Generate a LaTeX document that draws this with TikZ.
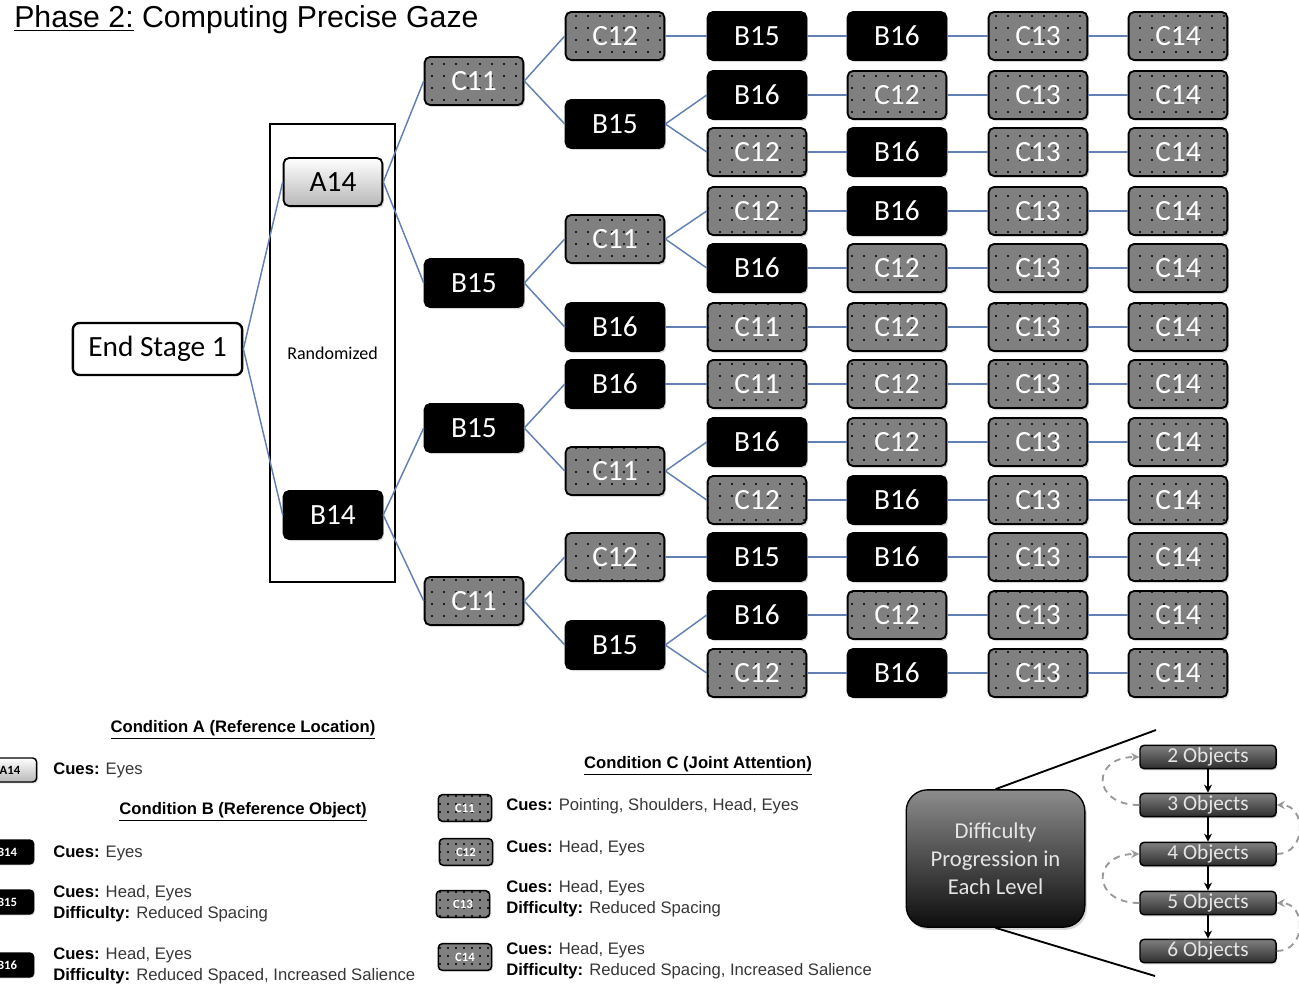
\documentclass[tikz,border=0pt]{standalone}
\usepackage{fontspec}
\setmainfont{Liberation Sans}
\newfontfamily\carl{Carlito}
\usetikzlibrary{patterns.meta,shadows,arrows.meta}
\definecolor{cgray}{RGB}{128,128,128}
\definecolor{linkblue}{RGB}{98,128,180}
\definecolor{legtext}{RGB}{55,55,55}
\newcommand\leglab[1]{\textcolor{black}{\textbf{#1}}}
\tikzset{
 treebox/.style={rounded corners=4pt, minimum width=74pt, minimum height=36pt, line width=1.4pt, inner sep=0pt,
   font=\carl\fontsize{22}{24}\selectfont, drop shadow={shadow xshift=1.2pt, shadow yshift=-1.5pt, opacity=0.3}},
 dotfill/.style={postaction={pattern={Dots[distance=#1,radius=0.85pt]}, pattern color=black}},
 cbox/.style={treebox, draw=black, fill=cgray, text=white, dotfill=9pt},
 bbox/.style={treebox, draw=black, fill=black, text=white},
 abox/.style={treebox, draw=black, top color=white, bottom color=black!28, text=black},
 smallbox/.style={minimum width=40pt, minimum height=18pt, rounded corners=3pt, line width=1.1pt, inner sep=0pt,
   font=\carl\bfseries\fontsize{9.5}{10}\selectfont, drop shadow={shadow xshift=0.8pt, shadow yshift=-1pt, opacity=0.3}},
 lcbox/.style={smallbox, minimum height=20pt, draw=black, fill=cgray, text=white, dotfill=6pt},
 lbbox/.style={smallbox, draw=black, fill=black, text=white},
 labox/.style={smallbox, draw=black, top color=white, bottom color=black!28, text=black},
 link/.style={draw=linkblue, line width=1.1pt},
 legtxt/.style={anchor=west, align=left, text=legtext, font=\fontsize{12.5}{15.75}\selectfont, inner sep=0pt},
 leghead/.style={font=\bfseries\fontsize{12.5}{15}\selectfont, inner sep=0pt},
 objbox/.style={rounded corners=3pt, minimum width=102pt, minimum height=17.5pt, inner sep=0pt, draw=black, line width=1.1pt,
   top color=black!50, bottom color=black!82, text=black!10, font=\carl\fontsize{16}{17}\selectfont,
   drop shadow={shadow xshift=1pt, shadow yshift=-1.2pt, opacity=0.3}},
 diffbox/.style={rounded corners=16pt, minimum width=134pt, minimum height=103pt, draw=black, line width=1pt,
   top color=black!45, bottom color=black!95, text=black!10, font=\carl\fontsize{17}{21}\selectfont, align=center,
   drop shadow={shadow xshift=1.5pt, shadow yshift=-2pt, opacity=0.3}},
 dasharrow/.style={draw=black!40, dash pattern=on 5pt off 4pt, line width=1.4pt, -{Stealth[length=6pt,width=6pt]}},
 downarrow/.style={draw=black, line width=1.2pt, -{Stealth[length=6pt,width=6pt]}},
}
\begin{document}
\begin{tikzpicture}[x=0.75pt,y=-0.75pt]
\useasboundingbox (0,0) rectangle (1299,988);
\clip (0,0) rectangle (1299,988);
\fill[white] (0,0) rectangle (1299,988);

% title
\node[anchor=base west, inner sep=0pt, font=\fontsize{22.7}{26}\selectfont] (title) at (14,28) {\underline{Phase 2:} Computing Precise Gaze};

% root and randomized group
\node[draw=black, line width=1.5pt, minimum width=93.75pt, minimum height=343.5pt, inner sep=0pt,
  font=\carl\fontsize{13.5}{15}\selectfont] (rand) at (332.5,353) {Randomized};
\node[draw=black, line width=1.8pt, rounded corners=5pt, minimum width=127pt, minimum height=39pt, inner sep=0pt,
  font=\carl\fontsize{22}{24}\selectfont] (es) at (157.5,349) {End Stage 1};

\node[abox] (a14) at (333,182) {A14};
\node[bbox] (b14) at (333,515) {B14};

% level 3
\node[cbox] (l3a) at (474,81) {C11};
\node[bbox] (l3b) at (474,283) {B15};
\node[bbox] (l3c) at (474,428) {B15};
\node[cbox] (l3d) at (474,601) {C11};

% level 4
\node[cbox] (l4a) at (615,36) {C12};
\node[bbox] (l4b) at (615,124) {B15};
\node[cbox] (l4c) at (615,239) {C11};
\node[bbox] (l4d) at (615,327) {B16};
\node[bbox] (l4e) at (615,384) {B16};
\node[cbox] (l4f) at (615,471) {C11};
\node[cbox] (l4g) at (615,557) {C12};
\node[bbox] (l4h) at (615,645) {B15};

% level 5 and 6
\node[bbox] (r1x5) at (757,36) {B15};   \node[bbox] (r1x6) at (897,36) {B16};
\node[bbox] (r2x5) at (757,95) {B16};   \node[cbox] (r2x6) at (897,95) {C12};
\node[cbox] (r3x5) at (757,152) {C12};  \node[bbox] (r3x6) at (897,152) {B16};
\node[cbox] (r4x5) at (757,211) {C12};  \node[bbox] (r4x6) at (897,211) {B16};
\node[bbox] (r5x5) at (757,268) {B16};  \node[cbox] (r5x6) at (897,268) {C12};
\node[cbox] (r6x5) at (757,327) {C11};  \node[cbox] (r6x6) at (897,327) {C12};
\node[cbox] (r7x5) at (757,384) {C11};  \node[cbox] (r7x6) at (897,384) {C12};
\node[bbox] (r8x5) at (757,442) {B16};  \node[cbox] (r8x6) at (897,442) {C12};
\node[cbox] (r9x5) at (757,500) {C12};  \node[bbox] (r9x6) at (897,500) {B16};
\node[bbox] (r10x5) at (757,557) {B15}; \node[bbox] (r10x6) at (897,557) {B16};
\node[bbox] (r11x5) at (757,615) {B16}; \node[cbox] (r11x6) at (897,615) {C12};
\node[cbox] (r12x5) at (757,673) {C12}; \node[bbox] (r12x6) at (897,673) {B16};

% level 7 and 8
\foreach \i/\y in {1/36,2/95,3/152,4/211,5/268,6/327,7/384,8/442,9/500,10/557,11/615,12/673}{
  \node[cbox] (r\i x7) at (1038,\y) {C13};
  \node[cbox] (r\i x8) at (1178,\y) {C14};
  \draw[link] (r\i x5.east) -- (r\i x6.west);
  \draw[link] (r\i x6.east) -- (r\i x7.west);
  \draw[link] (r\i x7.east) -- (r\i x8.west);
}

% connectors
\draw[link] (es.east) -- (a14.west);
\draw[link] (es.east) -- (b14.west);
\draw[link] (a14.east) -- (l3a.west);
\draw[link] (a14.east) -- (l3b.west);
\draw[link] (b14.east) -- (l3c.west);
\draw[link] (b14.east) -- (l3d.west);
\draw[link] (l3a.east) -- (l4a.west);
\draw[link] (l3a.east) -- (l4b.west);
\draw[link] (l3b.east) -- (l4c.west);
\draw[link] (l3b.east) -- (l4d.west);
\draw[link] (l3c.east) -- (l4e.west);
\draw[link] (l3c.east) -- (l4f.west);
\draw[link] (l3d.east) -- (l4g.west);
\draw[link] (l3d.east) -- (l4h.west);
\draw[link] (l4a.east) -- (r1x5.west);
\draw[link] (l4b.east) -- (r2x5.west);
\draw[link] (l4b.east) -- (r3x5.west);
\draw[link] (l4c.east) -- (r4x5.west);
\draw[link] (l4c.east) -- (r5x5.west);
\draw[link] (l4d.east) -- (r6x5.west);
\draw[link] (l4e.east) -- (r7x5.west);
\draw[link] (l4f.east) -- (r8x5.west);
\draw[link] (l4f.east) -- (r9x5.west);
\draw[link] (l4g.east) -- (r10x5.west);
\draw[link] (l4h.east) -- (r11x5.west);
\draw[link] (l4h.east) -- (r12x5.west);

% legend A and B
\node[leghead] (hA) at (243,730) {\underline{Condition A (Reference Location)}};
\node[labox] (lgA14) at (10,770) {A14};
\node[legtxt] (tA14) at (53,770) {\leglab{Cues:} Eyes};
\node[leghead] (hB) at (243,812) {\underline{Condition B (Reference Object)}};
\node[lbbox] (lgB14) at (7,852) {B14};
\node[legtxt] (tB14) at (53,853) {\leglab{Cues:} Eyes};
\node[lbbox] (lgB15) at (7,902) {B15};
\node[legtxt] (tB15) at (53,903.5) {\leglab{Cues:} Head, Eyes\\\leglab{Difficulty:} Reduced Spacing};
\node[lbbox] (lgB16) at (7,965) {B16};
\node[legtxt] (tB16) at (53,965.5) {\leglab{Cues:} Head, Eyes\\\leglab{Difficulty:} Reduced Spaced, Increased Salience};

% legend C
\node[leghead] (hC) at (698,766) {\underline{Condition C (Joint Attention)}};
\node[lcbox] (lgC11) at (465,808) {C11};
\node[legtxt] (tC11) at (506,806) {\leglab{Cues:} Pointing, Shoulders, Head, Eyes};
\node[lcbox] (lgC12) at (466,852) {C12};
\node[legtxt] (tC12) at (506,848) {\leglab{Cues:} Head, Eyes};
\node[lcbox] (lgC13) at (463,904) {C13};
\node[legtxt] (tC13) at (506,899) {\leglab{Cues:} Head, Eyes\\\leglab{Difficulty:} Reduced Spacing};
\node[lcbox] (lgC14) at (465,957) {C14};
\node[legtxt] (tC14) at (506,960.5) {\leglab{Cues:} Head, Eyes\\\leglab{Difficulty:} Reduced Spacing, Increased Salience};

% difficulty progression
\node[diffbox] (diff) at (995.5,858.5) {Difficulty\\Progression in\\Each Level};
\coordinate (zt) at (1156,730);
\coordinate (zb) at (1155,976);
\draw[black, line width=1.4pt] (diff.north) -- (zt);
\draw[black, line width=1.4pt] (diff.south) -- (zb);

\node[objbox] (o2) at (1208,757) {2 Objects};
\node[objbox] (o3) at (1208,805) {3 Objects};
\node[objbox] (o4) at (1208,854) {4 Objects};
\node[objbox] (o5) at (1208,903) {5 Objects};
\node[objbox] (o6) at (1208,951) {6 Objects};
\draw[downarrow] (o2.south) -- (o3.north);
\draw[downarrow] (o3.south) -- (o4.north);
\draw[downarrow] (o4.south) -- (o5.north);
\draw[downarrow] (o5.south) -- (o6.north);
\draw[dasharrow] (o3.west) .. controls +(-48,0) and +(-48,0) .. (o2.west);
\draw[dasharrow] (o5.west) .. controls +(-48,0) and +(-48,0) .. (o4.west);
\draw[dasharrow] (o4.east) .. controls +(30,0) and +(30,0) .. (o3.east);
\draw[dasharrow] (o6.east) .. controls +(30,0) and +(30,0) .. (o5.east);
\end{tikzpicture}
\end{document}
